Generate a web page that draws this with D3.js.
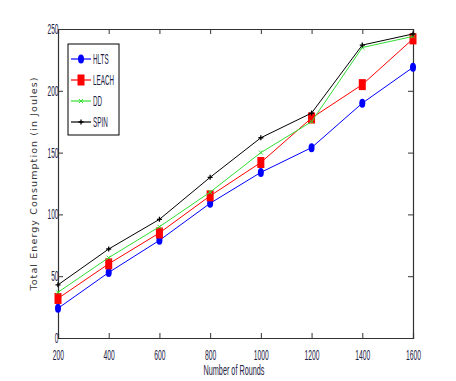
<!DOCTYPE html>
<html>
<head>
<meta charset="utf-8">
<script src="https://cdn.jsdelivr.net/npm/d3@7"></script>
<style>
  body { margin: 0; background: #fff; }
  text { font-family: "Liberation Sans", Arial, sans-serif; }
</style>
</head>
<body>
<script>
// data
let rounds = [200, 400, 600, 800, 1000, 1200, 1400, 1600]
let hlts  = [24, 53, 79, 109, 134, 154, 190, 219]
let leach = [32, 60, 85, 115, 142, 178, 205, 242]
let dd    = [37, 65, 90, 118, 150, 175, 235, 244]
let spin  = [43, 72, 96, 130, 162, 182, 237, 246]
let names = ["HLTS", "LEACH", "DD", "SPIN"]
let yTicks = [0, 50, 100, 150, 200, 250]

let w = 456, h = 381
let m = {left: 58, top: 29, right: 43, bottom: 43}
let narrow = 0.45   // the original uses a very condensed font, fake it with scaleX

let svg = d3.select("body").append("svg")
    .attr("width", w)
    .attr("height", h)

let x = d3.scaleLinear([200, 1600], [m.left, w - m.right])
let y = d3.scaleLinear([0, 250], [h - m.bottom, m.top])

let series = [
    {name: names[0], vals: hlts,  color: "#0000ff", marker: "circle"},
    {name: names[1], vals: leach, color: "#ff0000", marker: "square"},
    {name: names[2], vals: dd,    color: "#33dd33", marker: "x"},
    {name: names[3], vals: spin,  color: "#000000", marker: "plus"},
]

// axes (ticks point inward, like matlab)
let tickCol = "#222244"
let fmt = d3.format("d")
let xAxis = d3.axisBottom(x).tickValues(rounds).tickFormat(fmt).tickSize(-5).tickPadding(11)
let yAxis = d3.axisLeft(y).tickValues(yTicks).tickFormat(fmt).tickSize(-5).tickPadding(-1)

let gx = svg.append("g").attr("transform", `translate(0,${h - m.bottom})`).call(xAxis)
let gy = svg.append("g").attr("transform", `translate(${m.left},0)`).call(yAxis)
svg.append("g").attr("transform", `translate(0,${m.top})`)
    .call(d3.axisTop(x).tickValues(rounds).tickSize(-5).tickFormat(""))
svg.append("g").attr("transform", `translate(${w - m.right},0)`)
    .call(d3.axisRight(y).tickValues(yTicks).tickSize(-5).tickFormat(""))

svg.selectAll(".domain").attr("stroke", "#333").attr("stroke-width", 1.2)
svg.selectAll(".tick line").attr("stroke", "#333")
gx.selectAll("text")
    .attr("font-size", 15)
    .attr("fill", tickCol)
    .attr("transform", `scale(${narrow},1)`)
gy.selectAll("text")
    .attr("font-size", 14)
    .attr("fill", tickCol)
    .attr("transform", `scale(0.47,1)`)

// axis labels
svg.append("g")
    .attr("transform", `translate(234,375) scale(0.52,1)`)
    .append("text")
    .attr("text-anchor", "middle")
    .attr("font-size", 14)
    .attr("fill", tickCol)
    .text("Number of Rounds")

svg.append("text")
    .attr("transform", `translate(37,${(m.top + h - m.bottom) / 2}) rotate(-90)`)
    .attr("text-anchor", "middle")
    .attr("font-size", 9.5)
    .attr("letter-spacing", 1.1)
    .attr("fill", "#333")
    .style("font-family", "'DejaVu Sans', sans-serif")
    .text("Total Energy Consumption (in Joules)")

let line = d3.line().x((d, i) => x(rounds[i])).y(d => y(d))

function drawMarker(g, type, color) {
    if (type == "circle") {
        g.append("ellipse").attr("rx", 3).attr("ry", 4.5).attr("fill", color)
    } else if (type == "square") {
        g.append("rect").attr("x", -3.5).attr("y", -5.5).attr("width", 7).attr("height", 11).attr("fill", color)
    } else if (type == "x") {
        g.append("path").attr("d", "M-2,-2L2,2M-2,2L2,-2").attr("stroke", color).attr("stroke-width", 1)
    } else {
        g.append("path").attr("d", "M-2.5,0L2.5,0M0,-2.5L0,2.5").attr("stroke", color).attr("stroke-width", 1.3)
    }
}

series.forEach(s => {
    svg.append("path")
        .attr("d", line(s.vals))
        .attr("fill", "none")
        .attr("stroke", s.color)
        .attr("stroke-width", 1)
    s.vals.forEach((v, i) => {
        let g = svg.append("g").attr("transform", `translate(${x(rounds[i])},${y(v)})`)
        drawMarker(g, s.marker, s.color)
    })
})

// legend
let lg = svg.append("g")
lg.append("rect")
    .attr("x", 68).attr("y", 44).attr("width", 51).attr("height", 91)
    .attr("fill", "#fff").attr("stroke", "#000").attr("stroke-width", 1)
series.forEach((s, i) => {
    let ly = 59 + i * 21
    lg.append("line").attr("x1", 71).attr("x2", 91).attr("y1", ly).attr("y2", ly)
        .attr("stroke", s.color).attr("stroke-width", 1.2)
    let g = lg.append("g").attr("transform", `translate(81,${ly})`)
    drawMarker(g, s.marker, s.color)
    lg.append("g").attr("transform", `translate(93,${ly + 5}) scale(${narrow},1)`)
        .append("text")
        .attr("font-size", 14).attr("fill", tickCol)
        .text(s.name)
})
</script>
</body>
</html>
